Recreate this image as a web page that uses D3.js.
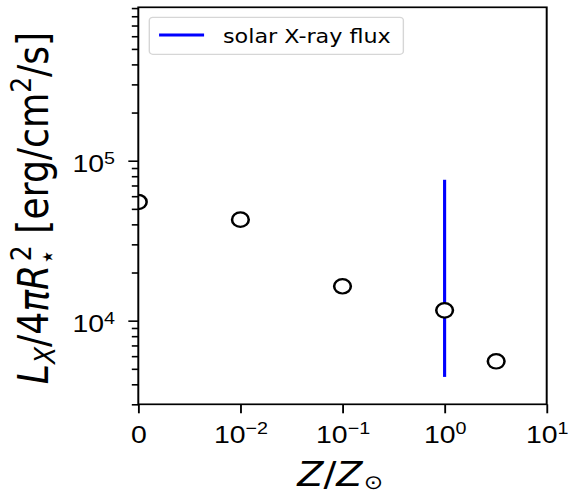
<!DOCTYPE html>
<html>
<head>
<meta charset="utf-8">
<script src="https://cdn.jsdelivr.net/npm/d3@7"></script>
<style>
  html, body { margin: 0; padding: 0; background: #fff; }
  svg { display: block; font-family: "DejaVu Sans", sans-serif; }
  text { white-space: pre; fill: #000; }
</style>
</head>
<body>
<script>
// metallicity in solar units (0 = metal free)
const metallicity = [0, 0.01, 0.1, 1, 3.2];
// surface X-ray flux L_X / 4 pi R^2 [erg/cm^2/s]
const xrayFlux = [55200, 42800, 16400, 11600, 5570];
// the sun: range of its X-ray flux over the cycle
const solarZ = 1;
const solarFluxRange = [4450, 76000];

const xTickValues = [0, 0.01, 0.1, 1, 10];
const xTickLabels = [['0', ''], ['10', '\u22122'], ['10', '\u22121'], ['10', '0'], ['10', '1']];
const yMajorTicks = [1e4, 1e5];
const yTickLabels = [['10', '4'], ['10', '5']];
const yDomain = [3000, 9.1e5];
const legendLabel = 'solar X-ray flux';

// The original picture is a little wider than tall, so draw in a narrower
// space and stretch it horizontally.
const SX = 1.16;
const width = 571, height = 495;
const plot = { left: 138.3 / SX, right: 546.7 / SX, top: 7.3, bottom: 404.3 };

const svg = d3.select('body').append('svg')
  .attr('width', width)
  .attr('height', height);

const g = svg.append('g').attr('transform', `scale(${SX},1)`);

// symlog-like x: linear between 0 and linthresh, log above it
const linthresh = 0.01;
const toU = (v) => v < linthresh ? v / linthresh : 1 + Math.log10(v / linthresh);
const uScale = d3.scaleLinear()
  .domain([toU(0), toU(10)])
  .range([plot.left, plot.right]);
function x(v) { return uScale(toU(v)); }
x.domain = () => [0, 10];
x.range = () => uScale.range();
x.copy = () => x;

const y = d3.scaleLog()
  .domain(yDomain)
  .range([plot.bottom, plot.top]);

// superscript tick labels like 10^-2
function supLabels(axisG, values, labels, supDy) {
  axisG.selectAll('.tick text').each(function(d) {
    const lab = labels[values.indexOf(d)];
    const t = d3.select(this).text(null).attr('font-size', 24.5);
    t.append('tspan').text(lab[0]);
    if (lab[1]) {
      t.append('tspan').attr('font-size', 17).attr('dy', supDy).text(lab[1]);
    }
  });
}

// clip for the markers
svg.append('defs').append('clipPath').attr('id', 'plot-clip')
  .append('rect')
    .attr('x', plot.left)
    .attr('y', plot.top)
    .attr('width', plot.right - plot.left)
    .attr('height', plot.bottom - plot.top);

// axes
const xAxisG = g.append('g')
  .attr('transform', `translate(0,${plot.bottom})`)
  .call(d3.axisBottom(x).tickValues(xTickValues).tickSize(9).tickPadding(12.6));
supLabels(xAxisG, xTickValues, xTickLabels, -9);

const yMinor = y.ticks().filter((d) => !yMajorTicks.includes(d) && d <= yDomain[1]);
g.append('g')
  .attr('transform', `translate(${plot.left},0)`)
  .call(d3.axisLeft(y).tickValues(yMinor).tickSize(5.6).tickFormat(''));

const yAxisG = g.append('g')
  .attr('transform', `translate(${plot.left},0)`)
  .call(d3.axisLeft(y).tickValues(yMajorTicks).tickSize(8.6).tickPadding(11.5));
supLabels(yAxisG, yMajorTicks, yTickLabels, -8);
yAxisG.selectAll('.tick text').attr('dy', 10.7);

g.selectAll('.domain').remove();
g.selectAll('.tick line').attr('stroke', '#000').attr('stroke-width', 1.6);

// solar range
g.append('line')
  .attr('x1', x(solarZ))
  .attr('x2', x(solarZ))
  .attr('y1', y(solarFluxRange[0]))
  .attr('y2', y(solarFluxRange[1]))
  .attr('stroke', '#0000ff')
  .attr('stroke-width', 2.7);

// model points
g.append('g')
  .attr('clip-path', 'url(#plot-clip)')
  .selectAll('circle')
  .data(metallicity)
  .join('circle')
    .attr('cx', (d) => x(d))
    .attr('cy', (d, i) => y(xrayFlux[i]))
    .attr('r', 7.2)
    .attr('fill', '#fff')
    .attr('stroke', '#000')
    .attr('stroke-width', 2.2);

// frame
g.append('rect')
  .attr('x', plot.left)
  .attr('y', plot.top)
  .attr('width', plot.right - plot.left)
  .attr('height', plot.bottom - plot.top)
  .attr('fill', 'none')
  .attr('stroke', '#000')
  .attr('stroke-width', 1.7);

// legend
const legend = g.append('g')
  .attr('transform', `translate(${plot.left + 9.5},${plot.top + 10})`);
legend.append('rect')
  .attr('width', 219)
  .attr('height', 37)
  .attr('rx', 3)
  .attr('fill', '#fff')
  .attr('fill-opacity', 0.8)
  .attr('stroke', '#d6d6d6')
  .attr('stroke-width', 1.2);
legend.append('line')
  .attr('x1', 8.4)
  .attr('x2', 47.2)
  .attr('y1', 17.7)
  .attr('y2', 17.7)
  .attr('stroke', '#0000ff')
  .attr('stroke-width', 3);
legend.append('text')
  .attr('x', 63.5)
  .attr('y', 26)
  .attr('font-size', 19.2)
  .text(legendLabel);

// x label: Z/Z_sun
const xl = g.append('text')
  .attr('x', (plot.left + plot.right) / 2 - 2)
  .attr('y', 486)
  .attr('text-anchor', 'middle')
  .attr('font-size', 33);
xl.append('tspan').attr('font-style', 'italic').text('Z');
xl.append('tspan').text('/');
xl.append('tspan').attr('font-style', 'italic').text('Z');
xl.append('tspan').attr('font-size', 20).attr('dx', 1).attr('dy', 3).text('\u2299');

// y label: L_X/4 pi R_star^2 [erg/cm^2/s]
const yl = g.append('text')
  .attr('transform', 'translate(41,208) rotate(-90)')
  .attr('text-anchor', 'middle')
  .attr('font-size', 36.2);
yl.append('tspan').attr('font-style', 'italic').text('L');
yl.append('tspan').attr('font-style', 'italic').attr('font-size', 25).attr('dy', 6).text('X');
yl.append('tspan').attr('dy', -6).text('/4');
yl.append('tspan').attr('font-style', 'italic').text('\u03c0R');
yl.append('tspan').attr('font-size', 25).attr('dy', 8).text('\u22c6');
yl.append('tspan').attr('font-size', 25).attr('dx', -12).attr('dy', -22).text('2');
yl.append('tspan').attr('dy', 14).text(' [erg/cm');
yl.append('tspan').attr('font-size', 25).attr('dy', -14).text('2');
yl.append('tspan').attr('dy', 14).text('/s]');
</script>
</body>
</html>
